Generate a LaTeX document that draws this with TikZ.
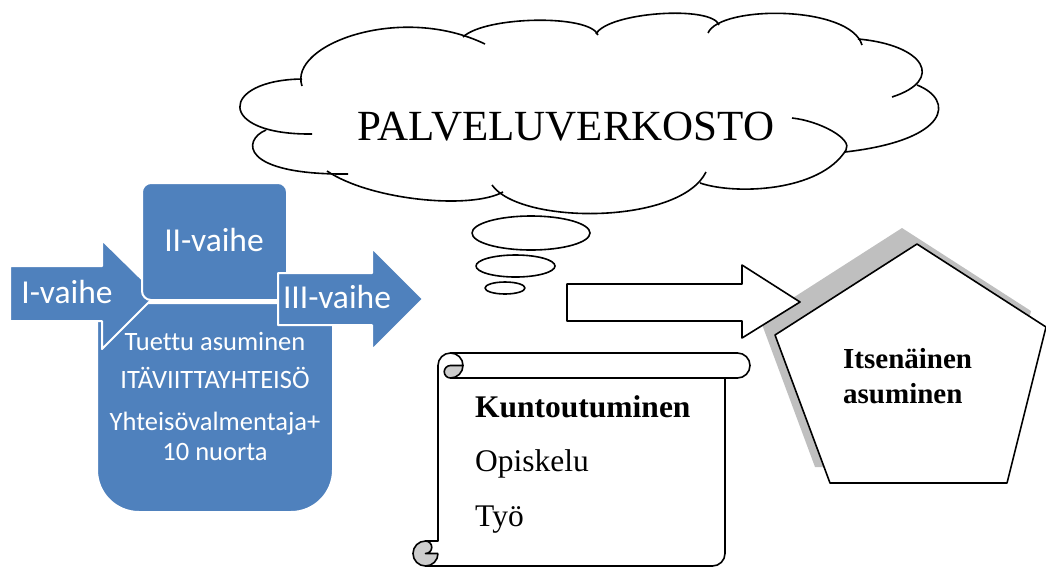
\documentclass[tikz,border=0pt]{standalone}
\usepackage{fontspec}
\setmainfont{Liberation Serif}
\newfontfamily\calibri[Ligatures=NoCommon]{Carlito}
\usetikzlibrary{shapes.geometric}
\definecolor{wblue}{RGB}{79,129,189}
\definecolor{shadowgray}{RGB}{191,191,191}
\definecolor{curlgray}{RGB}{205,205,205}
\begin{document}
\begin{tikzpicture}[x=1pt,y=-1pt,line join=round,
  ink/.style={draw=black,line width=1.6pt},
  outline/.style={ink,fill=white},
  blueshape/.style={fill=wblue,draw=white,line width=2pt},
  lbl/.style={text=white,font=\calibri\fontsize{33.5}{40}\selectfont,anchor=base,inner sep=0pt},
  boxtxt/.style={text=white,font=\calibri\fontsize{26.5}{30}\selectfont,anchor=base,inner sep=0pt},
  scrolltxt/.style={font=\fontsize{31.5}{38}\selectfont,anchor=base west,inner sep=0pt},
  penttxt/.style={font=\bfseries\fontsize{29}{35}\selectfont,anchor=base west,inner sep=0pt},
  bubble/.style={ellipse,outline,inner sep=0pt}]
\useasboundingbox (0,0) rectangle (1046,566);

% ---------- cloud ----------
\draw[ink] (302,86) .. controls (288,45) and (400,3) .. (485,44);
\draw[ink] (463,37) .. controls (485,16) and (590,14) .. (598,35);
\draw[ink] (596,34) .. controls (608,12) and (712,5) .. (719,25);
\draw[ink] (708,33) .. controls (720,5) and (850,5) .. (862,45);
\draw[ink] (858,39) .. controls (925,45) and (945,80) .. (892,97);
\draw[ink] (917,85) .. controls (955,100) and (950,140) .. (845,152);
\draw[ink] (700,183) .. controls (735,195) and (820,192) .. (846,150)
                     .. controls (853,139) and (820,121) .. (792,118);
\draw[ink] (492,185) .. controls (520,225) and (680,225) .. (706,172);
\draw[ink] (327,171) .. controls (370,200) and (470,210) .. (503,192);
\draw[ink] (266,130) .. controls (242,140) and (240,175) .. (348,174);
\draw[ink] (302,79) .. controls (220,80) and (215,135) .. (312,134);
\node[font=\fontsize{43}{50}\selectfont,anchor=base,inner sep=0pt] (palvelu) at (566,140) {PALVELUVERKOSTO};

% ---------- thought bubbles ----------
\node[bubble,minimum width=118pt,minimum height=34pt] (b1) at (531,233) {};
\node[bubble,minimum width=79pt,minimum height=22pt] (b2) at (515.5,266) {};
\node[bubble,minimum width=40pt,minimum height=12pt] (b3) at (505,288) {};

% ---------- blue process ----------
\path[blueshape] (97,400) -- (97,303) -- (333,303) [rounded corners=42pt] -- (333,512) -- (97,512) -- cycle;
\path[blueshape] (10,266) -- (102,266) -- (102,240) -- (157,294) -- (102,349) -- (102,321) -- (10,321) -- cycle;
\path[blueshape,rounded corners=9pt] (142,183) rectangle (287,300);
\path[blueshape] (278,273) -- (372,273) -- (372,248) -- (423,299) -- (372,350) -- (372,325) -- (278,325) -- cycle;
\node[lbl] (v2) at (214,251) {II-vaihe};
\node[lbl] (v1) at (67,303) {I-vaihe};
\node[lbl] (v3) at (337,308) {III-vaihe};
\node[boxtxt] (t1) at (215,350) {Tuettu asuminen};
\node[boxtxt] (t2) at (215,388) {ITÄVIITTAYHTEISÖ};
\node[boxtxt] (t3) at (215,430) {Yhteisövalmentaja+};
\node[boxtxt] (t4) at (215,460) {10 nuorta};

% ---------- pentagon with shadow ----------
\fill[shadowgray] (902,228) -- (1031,311) -- (992,467) -- (815,467) -- (760,319) -- cycle;
\draw[outline] (917,244) -- (1046,327) -- (1007,483) -- (830,483) -- (775,335) -- cycle;
\node[penttxt] (p1) at (843,368) {Itsenäinen};
\node[penttxt] (p2) at (843,403) {asuminen};

% ---------- big white arrow ----------
\draw[outline] (567,284) -- (742,284) -- (742,265) -- (800,302) -- (742,338) -- (742,321) -- (567,321) -- cycle;

% ---------- scroll ----------
\path[fill=white] (438,541) -- (438,365.5) .. controls (438,358.6) and (443.6,353) .. (450.5,353)
  -- (737.5,353) .. controls (744.4,353) and (750,358.6) .. (750,365.5)
  .. controls (750,372.4) and (744.4,378) .. (737.5,378) -- (725,378) -- (725,553.5)
  .. controls (725,560.4) and (719.4,566) .. (712.5,566) -- (425.5,566)
  .. controls (418.6,566) and (413,560.4) .. (413,553.5)
  .. controls (413,546.6) and (418.6,541) .. (425.5,541) -- cycle;
\fill[curlgray] (425.5,553.5) circle[radius=12.5pt];
\fill[white] (425.5,541) -- (438,541) -- (438,553.5) -- (425.5,553.5)
  .. controls (428.95,553.5) and (431.75,550.7) .. (431.75,547.25)
  .. controls (431.75,543.8) and (428.95,541) .. (425.5,541) -- cycle;
\fill[curlgray] (450.5,365.5) -- (463,365.5) .. controls (463,372.4) and (457.4,378) .. (450.5,378)
  .. controls (447.05,378) and (444.25,375.2) .. (444.25,371.75)
  .. controls (444.25,368.3) and (447.05,365.5) .. (450.5,365.5) -- cycle;
\draw[ink] (438,541) -- (438,365.5) .. controls (438,358.6) and (443.6,353) .. (450.5,353)
  -- (737.5,353) .. controls (744.4,353) and (750,358.6) .. (750,365.5)
  .. controls (750,372.4) and (744.4,378) .. (737.5,378) -- (725,378) -- (725,553.5)
  .. controls (725,560.4) and (719.4,566) .. (712.5,566) -- (425.5,566)
  .. controls (418.6,566) and (413,560.4) .. (413,553.5)
  .. controls (413,546.6) and (418.6,541) .. (425.5,541) -- cycle;
\draw[ink] (450.5,353) .. controls (457.4,353) and (463,358.6) .. (463,365.5)
  .. controls (463,372.4) and (457.4,378) .. (450.5,378)
  .. controls (447.05,378) and (444.25,375.2) .. (444.25,371.75)
  .. controls (444.25,368.3) and (447.05,365.5) .. (450.5,365.5) -- (463,365.5);
\draw[ink] (725,378) -- (450.5,378);
\draw[ink] (425.5,541) .. controls (428.95,541) and (431.75,543.8) .. (431.75,547.25)
  .. controls (431.75,550.7) and (428.95,553.5) .. (425.5,553.5) -- (438,553.5);
\draw[ink] (425.5,566) .. controls (432.4,566) and (438,560.4) .. (438,553.5);
\node[scrolltxt,font=\bfseries\fontsize{31.5}{38}\selectfont] (s1) at (475,417) {Kuntoutuminen};
\node[scrolltxt] (s2) at (475,471) {Opiskelu};
\node[scrolltxt] (s3) at (475,526) {Työ};
\end{tikzpicture}
\end{document}
